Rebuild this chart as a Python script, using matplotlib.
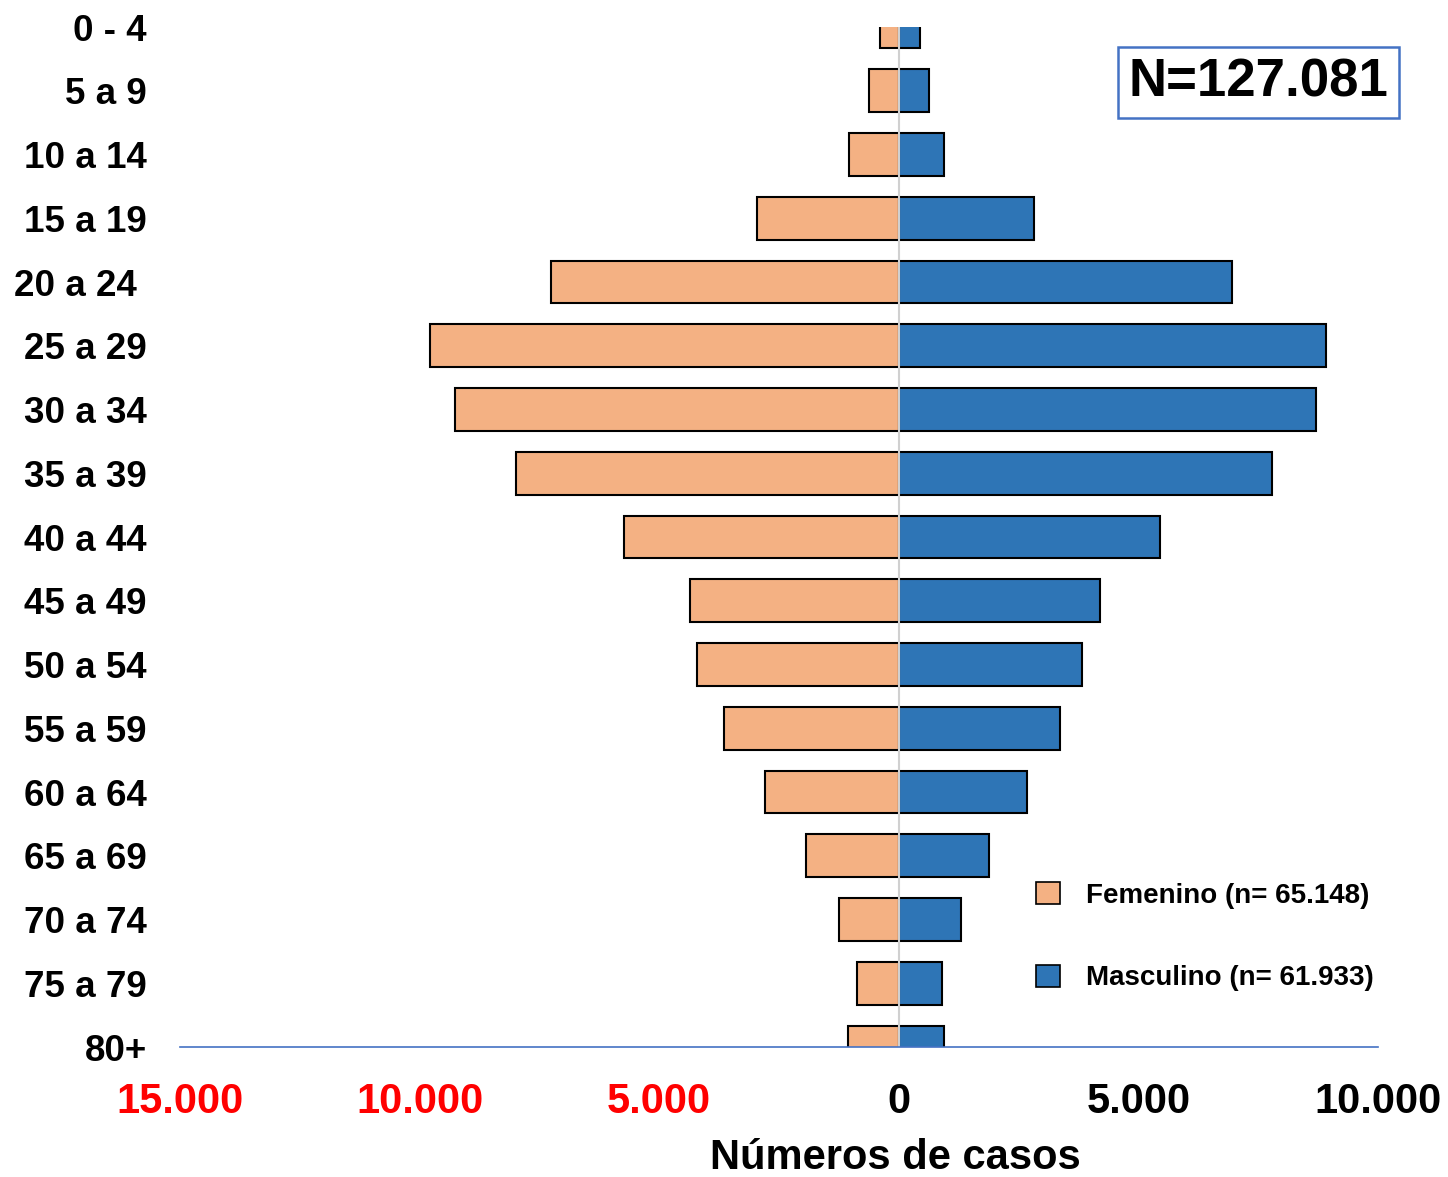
import matplotlib
matplotlib.use("Agg")
import matplotlib.pyplot as plt
from matplotlib.patches import Patch

grupos = ["0 - 4", "5 a 9", "10 a 14", "15 a 19", "20 a 24 ", "25 a 29", "30 a 34",
          "35 a 39", "40 a 44", "45 a 49", "50 a 54", "55 a 59", "60 a 64",
          "65 a 69", "70 a 74", "75 a 79", "80+"]
femenino = [400, 630, 1040, 2960, 7260, 9790, 9270, 7990, 5740, 4360, 4220,
            3650, 2800, 1940, 1250, 880, 1060]
masculino = [440, 630, 940, 2820, 6950, 8910, 8700, 7780, 5450, 4190, 3820,
             3360, 2670, 1880, 1290, 900, 940]
xticks = [-15000, -10000, -5000, 0, 5000, 10000]
xticklabels = ["15.000", "10.000", "5.000", "0", "5.000", "10.000"]

plt.rcParams['font.family'] = ['Liberation Sans', 'DejaVu Sans']

fig = plt.figure(figsize=(14.48, 11.77), dpi=100)
ax = fig.add_axes([0.1243, 0.1104, 0.8274, 0.8666])

y = list(range(len(grupos)))
ax.barh(y, [-v for v in femenino], height=0.67, color='#F4B183',
        edgecolor='black', linewidth=1.5, zorder=2)
ax.barh(y, masculino, height=0.67, color='#2E75B6',
        edgecolor='black', linewidth=1.5, zorder=2)
ax.axvline(0, color='#d0d0d0', linewidth=1.5, zorder=3)

ax.set_xlim(-15000, 10000)
ax.set_ylim(len(grupos) - 1, 0)

ax.set_yticks(y)
ax.set_yticklabels(grupos, fontsize=26.5, fontweight='bold')
ax.set_xticks(xticks)
ax.set_xticklabels(xticklabels, fontsize=30, fontweight='bold')
for lbl, v in zip(ax.get_xticklabels(), xticks):
    lbl.set_color('red' if v < 0 else 'black')
ax.tick_params(axis='y', length=0, pad=24)
ax.tick_params(axis='x', length=0, pad=25)

for s in ['top', 'right', 'left']:
    ax.spines[s].set_visible(False)
ax.spines['bottom'].set_color('#4472C4')
ax.spines['bottom'].set_linewidth(1.2)
ax.spines['bottom'].set_zorder(4)

ax.set_xlabel("Números de casos", fontsize=30, fontweight='bold')
ax.xaxis.set_label_coords(0.597, -0.089)

ax.text(0.9, 0.946, "N=127.081", transform=ax.transAxes, fontsize=38,
        fontweight='bold', ha='center', va='center',
        bbox=dict(boxstyle='square,pad=0.2', facecolor='white',
                  edgecolor='#4472C4', linewidth=1.8))

handles = [Patch(facecolor='#F4B183', edgecolor='black', linewidth=1.2),
           Patch(facecolor='#2E75B6', edgecolor='black', linewidth=1.2)]
leg = ax.legend(handles, ["Femenino (n= 65.148)", "Masculino (n= 61.933)"],
                loc='upper left', bbox_to_anchor=(0.694, 0.186),
                frameon=False, prop={'size': 20, 'weight': 'bold'},
                handlelength=0.85, handleheight=0.85, handletextpad=0.95,
                labelspacing=2.0)

fig.savefig("out.png", dpi=100)
